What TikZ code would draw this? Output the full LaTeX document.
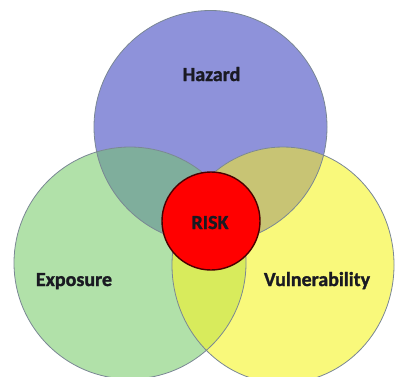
\documentclass[tikz,border=0pt]{standalone}
\usepackage{fontspec}
\setmainfont{Carlito}[BoldFeatures={FakeBold=1.3}]
\usetikzlibrary{positioning}
\definecolor{hazfill}{HTML}{8E92DA}
\definecolor{expfill}{HTML}{B1E1A9}
\definecolor{vulfill}{HTML}{F9F97B}
\definecolor{hefill}{HTML}{7FAE9C}
\definecolor{hvfill}{HTML}{C8C474}
\definecolor{evfill}{HTML}{D8EB5C}
\definecolor{rimgray}{HTML}{7A8794}
\definecolor{riskred}{HTML}{FF0000}
\definecolor{riskrim}{HTML}{4A0000}
\definecolor{textdark}{HTML}{1A1A22}
\newcommand{\hazdisc}{(haz) circle[radius=116.5]}
\newcommand{\expdisc}{(exp) circle[radius=116]}
\newcommand{\vuldisc}{(vul) ellipse[x radius=111, y radius=118]}

\begin{document}
\begin{tikzpicture}[x=1pt, y=1pt,
  font=\bfseries\fontsize{20}{24}\selectfont,
  rim/.style={draw=rimgray, line width=0.8pt},
  word/.style={anchor=base, text=textdark, inner sep=0pt}]
 \path[use as bounding box] (0,0) rectangle (395,-376);
 \clip (0,0) rectangle (395,-376);
 % centres of the three sets
 \coordinate (haz) at (210.5,-127);
 \coordinate (exp) at (130,-263);
 \coordinate (vul) at (283,-265);
 % plain discs
 \fill[hazfill] \hazdisc;
 \fill[expfill] \expdisc;
 \fill[vulfill] \vuldisc;
 % pairwise overlaps
 \begin{scope}
  \clip \hazdisc;
  \fill[hefill] \expdisc;
  \fill[hvfill] \vuldisc;
 \end{scope}
 \begin{scope}
  \clip \expdisc;
  \fill[evfill] \vuldisc;
 \end{scope}
 \draw[rim] \hazdisc;
 \draw[rim] \expdisc;
 \draw[rim] \vuldisc;
 % centre
 \node[circle, draw=riskrim, fill=riskred, line width=1.4pt,
       minimum size=98pt, inner sep=0pt] (risk) at (211,-221) {};
 \node[word] (riskword) at (210,-229) {RISK};
 \node[word] (hazword) at (211.5,-81) {Hazard};
 \node[word] (expword) at (74,-286) {Exposure};
 \node[word] (vulword) at (317,-286) {Vulnerability};
\end{tikzpicture}
\end{document}
